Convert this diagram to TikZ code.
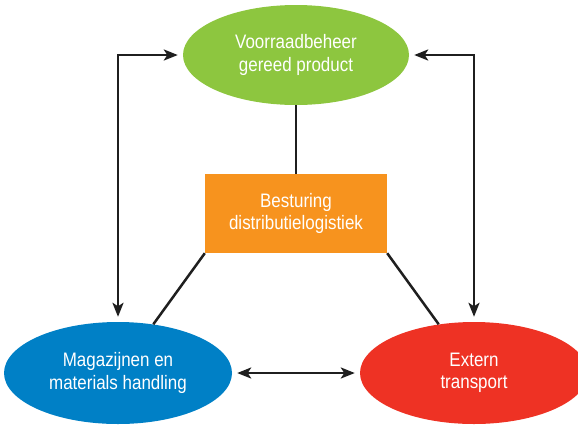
\documentclass[tikz,border=0pt]{standalone}
\usepackage{fontspec}
\setmainfont{Liberation Sans}[FakeStretch=0.87]
\usetikzlibrary{shapes.geometric,arrows.meta}
\definecolor{vgreen}{RGB}{141,198,63}
\definecolor{vorange}{RGB}{247,147,30}
\definecolor{vblue}{RGB}{0,128,198}
\definecolor{vred}{RGB}{238,50,36}
\begin{document}
\begin{tikzpicture}[x=1pt,y=-1pt,
  lbl/.style={text=white,align=center,font=\fontsize{19.5}{22.5}\selectfont,inner sep=0pt},
  ell/.style={lbl,ellipse,minimum width=228pt,minimum height=102pt},
  box/.style={lbl,rectangle,minimum width=182pt,minimum height=79pt},
  conn/.style={line width=2.5pt,black!88},
  tip/.style={conn,{Stealth[length=14pt,width=11pt,inset=3.5pt]}-{Stealth[length=14pt,width=11pt,inset=3.5pt]},shorten <=5pt,shorten >=5pt}]
\useasboundingbox (0,0) rectangle (578,424);
\node[ell,fill=vgreen,minimum width=226pt,minimum height=100pt] (vg) at (296,55) {Voorraadbeheer\\gereed product};
\node[box,fill=vorange] (bs) at (296,213.5) {Besturing\\distributielogistiek};
\node[ell,fill=vblue] (mg) at (118,373) {Magazijnen en\\materials handling};
\node[ell,fill=vred] (ex) at (474,373) {Extern\\transport};
\draw[conn] (vg) -- (bs);
\draw[conn] (bs.south west) -- (mg);
\draw[conn] (bs.south east) -- (ex);
\draw[tip] (vg.west) -| (mg.north);
\draw[tip] (vg.east) -| (ex.north);
\draw[tip] (mg.east) -- (ex.west);
\end{tikzpicture}
\end{document}
